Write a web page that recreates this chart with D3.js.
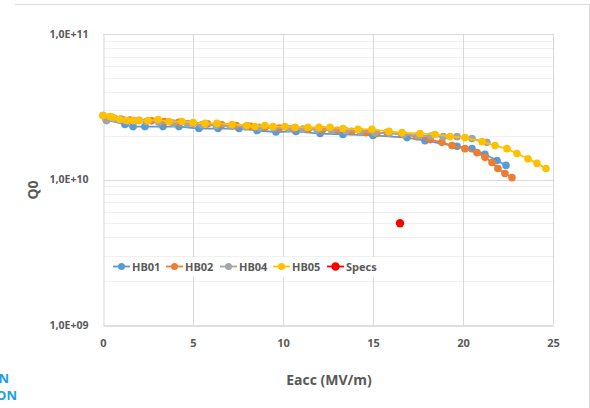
<!DOCTYPE html>
<html><head><meta charset="utf-8">
<script src="https://cdn.jsdelivr.net/npm/d3@7"></script>
<style>body{margin:0;background:#fff}svg{display:block}text{font-family:"Open Sans","Liberation Sans",sans-serif}</style>
</head><body><svg id="c" width="590" height="408"></svg>
<script>
// Data (Eacc in MV/m, Q0)
const hb01E = [0.17,1.22,1.67,2.33,3.33,4.22,5.33,6.39,7.56,8.56,9.61,10.72,12.06,13.33,15.0,16.89,17.89,19.67,20.5,21.22,21.89,22.39];
const hb01Q = [2.58e10,2.39e10,2.31e10,2.31e10,2.31e10,2.31e10,2.24e10,2.24e10,2.24e10,2.17e10,2.12e10,2.14e10,2.07e10,2.04e10,2.01e10,1.94e10,1.85e10,1.69e10,1.63e10,1.49e10,1.35e10,1.25e10];
const hb02E = [0,0.5,1.0,1.5,2.0,2.7,3.4,4.2,5.0,5.8,6.6,7.4,8.2,9.0,9.8,10.6,11.4,12.2,13.0,13.8,14.6,15.2,15.78,16.61,17.44,18.17,18.83,19.39,20.11,20.78,21.22,21.61,21.94,22.33,22.72];
const hb02Q = [2.75e10,2.68e10,2.6e10,2.56e10,2.55e10,2.53e10,2.5e10,2.47e10,2.44e10,2.41e10,2.38e10,2.35e10,2.32e10,2.29e10,2.26e10,2.24e10,2.22e10,2.2e10,2.18e10,2.14e10,2.1e10,2.07e10,2.1e10,2.04e10,1.97e10,1.88e10,1.8e10,1.71e10,1.63e10,1.53e10,1.42e10,1.31e10,1.19e10,1.1e10,1.03e10];
const hb04E = [0.2,0.7,1.2,1.8,2.4,3.1,3.9,4.7,5.5,6.3,7.1,7.9,8.7,9.5,10.3,11.1,11.9,12.7,13.5,14.3,15.1,15.9,16.7,17.5,18.2,18.9,19.67,20.5,21.33];
const hb04Q = [2.54e10,2.6e10,2.55e10,2.53e10,2.5e10,2.47e10,2.44e10,2.42e10,2.38e10,2.35e10,2.32e10,2.3e10,2.28e10,2.26e10,2.24e10,2.22e10,2.2e10,2.18e10,2.16e10,2.14e10,2.1e10,2.08e10,2.04e10,2.0e10,1.99e10,1.97e10,1.97e10,1.91e10,1.8e10];
const hb05E = [0,0.39,0.56,0.94,1.33,1.67,2.0,2.5,3.06,3.67,4.39,5.0,5.67,6.33,7.17,8.0,8.44,9.0,9.44,10.11,10.67,11.39,12.0,12.61,13.33,14.17,14.94,15.89,16.61,17.61,18.44,19.28,20.11,21.06,21.78,22.44,23.0,23.61,24.11,24.61];
const hb05Q = [2.75e10,2.71e10,2.67e10,2.58e10,2.54e10,2.54e10,2.54e10,2.54e10,2.58e10,2.5e10,2.5e10,2.46e10,2.43e10,2.43e10,2.39e10,2.35e10,2.31e10,2.35e10,2.31e10,2.31e10,2.28e10,2.28e10,2.28e10,2.28e10,2.24e10,2.21e10,2.21e10,2.14e10,2.1e10,2.07e10,2.04e10,1.97e10,1.94e10,1.82e10,1.71e10,1.63e10,1.51e10,1.39e10,1.29e10,1.19e10];
const specsE = [16.5];
const specsQ = [5e9];
const seriesNames = ["HB01","HB02","HB04","HB05","Specs"];
const seriesColors = ["#5b9bd5","#ed7d31","#a5a5a5","#ffc000","#ff0000"];
const xTicks = [0,5,10,15,20,25];
const yTicks = [1e9,1e10,1e11];
const yTickLabels = ["1,0E+09","1,0E+10","1,0E+11"];

const svg = d3.select("#c");
const L=103,R=553,T=34,B=325;
const x = d3.scaleLinear().domain([0,25]).range([L,R]);
const y = d3.scaleLog().domain([1e9,1e11]).range([B,T]);

// outer frame
svg.append("line").attr("x1",15).attr("x2",589).attr("y1",4.5).attr("y2",4.5).attr("stroke","#d9d9d9");
svg.append("line").attr("x1",589.5).attr("x2",589.5).attr("y1",4).attr("y2",408).attr("stroke","#d9d9d9");

// minor grid
const minor=[];
for(let d=1e9; d<1e11; d*=10) for(let k=2;k<=9;k++) minor.push(d*k);
svg.append("g").selectAll("line").data(minor).join("line")
  .attr("x1",L).attr("x2",R).attr("y1",d=>Math.round(y(d))+0.5).attr("y2",d=>Math.round(y(d))+0.5)
  .attr("stroke","#f0f0f0");
// major grid
svg.append("g").selectAll("line").data(yTicks.slice(1)).join("line")
  .attr("x1",L).attr("x2",R).attr("y1",d=>Math.round(y(d))+0.5).attr("y2",d=>Math.round(y(d))+0.5)
  .attr("stroke","#d9d9d9");
svg.append("g").selectAll("line").data(xTicks.slice(1)).join("line")
  .attr("x1",d=>Math.round(x(d))+0.5).attr("x2",d=>Math.round(x(d))+0.5).attr("y1",T).attr("y2",B)
  .attr("stroke","#d9d9d9");

// axes
const yAxis = d3.axisLeft(y).tickValues(yTicks).tickFormat((d,i)=>yTickLabels[i]).tickSize(0).tickPadding(15);
const gy = svg.append("g").attr("transform",`translate(${L+0.5},0)`).call(yAxis);
gy.select(".domain").attr("stroke","#d9d9d9");
gy.selectAll("text").attr("font-size",10.5).attr("font-weight","bold").attr("fill","#595959");
const xAxis = d3.axisBottom(x).tickValues(xTicks).tickSize(0).tickPadding(14);
const gx = svg.append("g").attr("transform",`translate(0,${B+0.5})`).call(xAxis);
gx.select(".domain").attr("stroke","#bfbfbf");
gx.selectAll("text").attr("font-size",11).attr("font-weight","bold").attr("fill","#595959");

// axis titles
svg.append("text").attr("x",329).attr("y",385).attr("text-anchor","middle").attr("font-size",14).attr("font-weight","bold").attr("fill","#595959").text("Eacc (MV/m)");
svg.append("text").attr("transform","translate(38,190) rotate(-90)").attr("text-anchor","middle").attr("font-size",14).attr("font-weight","bold").attr("fill","#595959").text("Q0");

// series
const allE=[hb01E,hb02E,hb04E,hb05E];
const allQ=[hb01Q,hb02Q,hb04Q,hb05Q];
const line = d3.line().x(d=>x(d[0])).y(d=>y(d[1]));
allE.forEach((E,i)=>{
  const pts = E.map((e,j)=>[e,allQ[i][j]]);
  const g = svg.append("g");
  g.append("path").datum(pts).attr("d",line).attr("fill","none").attr("stroke",seriesColors[i]).attr("stroke-width",1.8);
  g.selectAll("circle").data(pts).join("circle").attr("cx",d=>x(d[0])).attr("cy",d=>y(d[1])).attr("r",3.8).attr("fill",seriesColors[i]);
});
svg.append("g").selectAll("circle").data(specsE.map((e,j)=>[e,specsQ[j]])).join("circle")
  .attr("cx",d=>x(d[0])).attr("cy",d=>y(d[1])).attr("r",4.2).attr("fill",seriesColors[4]);

// legend
const lg = svg.append("g");
lg.append("rect").attr("x",110).attr("y",257).attr("width",272).attr("height",20).attr("fill","#fff");
const legX=[113,166,220,273,327];
seriesNames.forEach((n,i)=>{
  const lx=legX[i];
  lg.append("line").attr("x1",lx).attr("x2",lx+17).attr("y1",266.5).attr("y2",266.5).attr("stroke",seriesColors[i]).attr("stroke-width",1.8);
  lg.append("circle").attr("cx",lx+8.5).attr("cy",266.5).attr("r",i===4?4.2:3.5).attr("fill",seriesColors[i]);
  lg.append("text").attr("x",lx+19).attr("y",270.5).attr("font-size",11).attr("font-weight","bold").attr("fill","#595959").text(n);
});

// cropped slide text
svg.append("text").attr("x",9).attr("y",383).attr("text-anchor","end").attr("font-size",13).attr("font-weight","bold").attr("fill","#1ea0dc").text("N");
svg.append("text").attr("x",17).attr("y",400).attr("text-anchor","end").attr("font-size",13).attr("font-weight","bold").attr("fill","#1ea0dc").text("ON");
</script></body></html>
